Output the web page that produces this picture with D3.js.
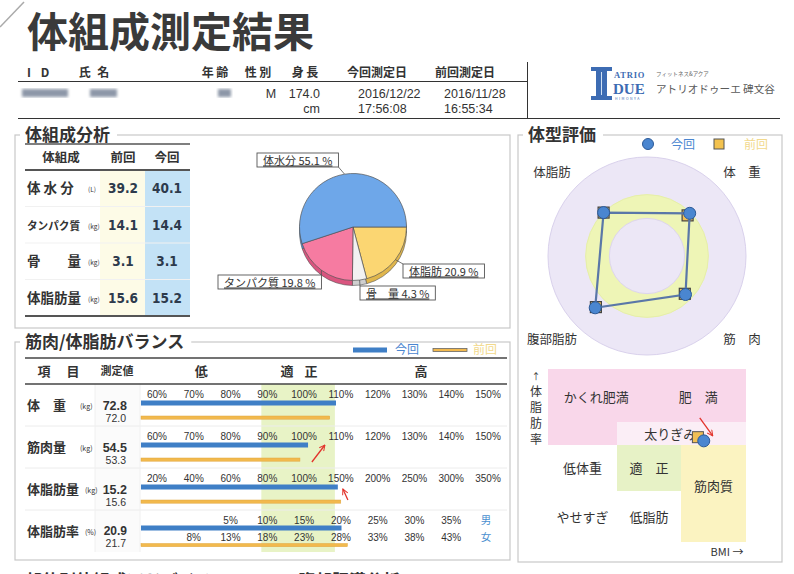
<!DOCTYPE html>
<html>
<head>
<meta charset="utf-8">
<title>体組成測定結果</title>
<script src="https://cdn.jsdelivr.net/npm/d3@7"></script>
<style>
  body { margin: 0; background: #fff; }
  svg { display: block; font-family: "Noto Sans CJK JP", "Noto Sans", sans-serif; }
  .num { font-family: "Liberation Sans", Arial, sans-serif; }
  .big { font-family: "DejaVu Sans Condensed", "DejaVu Sans", sans-serif; }
</style>
</head>
<body>
<div id="chart"></div>
<script>
// ---------- data ----------
const headerLabels = ["I D", "氏 名", "年 齢", "性 別", "身 長", "今回測定日", "前回測定日"];
const sex = "M";
const height = "174.0";
const dateNow = ["2016/12/22", "17:56:08"];
const datePrev = ["2016/11/28", "16:55:34"];

// 体組成分析
const compItems = ["体 水 分", "タンパク質", "骨　　量", "体脂肪量"];
const compUnits = ["(L)", "(kg)", "(kg)", "(kg)"];
const compPrev = [39.2, 14.1, 3.1, 15.6];
const compNow = [40.1, 14.4, 3.1, 15.2];

// pie, clockwise from 3 o'clock
const pieNames = ["体脂肪", "骨　量", "タンパク質", "体水分"];
const piePct = [20.9, 4.3, 19.8, 55.1];

// 体型評価 (radar), clockwise from upper right
const radarAxes = ["体　重", "筋　肉", "腹部脂肪", "体脂肪"];
const radarNow = [61, 55, 74, 62];
const radarPrev = [58, 54, 73, 62];
const radarBands = [100, 62, 38];

// BMI / 体脂肪率 map
const bmiEdges = [17, 20, 23, 26];
const fatEdges = [5, 12, 20, 25, 30];
const bmiCells = [
  { bmi: [17, 26], fat: [25, 30], kind: "obese" },
  { bmi: [17, 20], fat: [20, 25], kind: "obese" },
  { bmi: [20, 26], fat: [20, 25], kind: "over" },
  { bmi: [17, 20], fat: [12, 20], kind: "plain" },
  { bmi: [20, 23], fat: [12, 20], kind: "ok" },
  { bmi: [23, 26], fat: [5, 20], kind: "muscle" },
  { bmi: [17, 20], fat: [5, 12], kind: "plain" },
  { bmi: [20, 23], fat: [5, 12], kind: "plain" }
];
const bmiLabels = [
  { text: "かくれ肥満", bmi: 19.1, fat: 27.4 },
  { text: "肥　満", bmi: 23.8, fat: 27.4 },
  { text: "太りぎみ", bmi: 22.5, fat: 22.4 },
  { text: "低体重", bmi: 18.5, fat: 16 },
  { text: "適　正", bmi: 21.5, fat: 16 },
  { text: "筋肉質", bmi: 24.5, fat: 12.8 },
  { text: "やせすぎ", bmi: 18.5, fat: 8.5 },
  { text: "低脂肪", bmi: 21.5, fat: 8.5 }
];
const bmiNow = 24.05, bmiPrev = 23.78;
const fatNow = 20.9, fatPrev = 21.7;

// 筋肉/体脂肪バランス
const balanceItems = ["体　重", "筋肉量", "体脂肪量", "体脂肪率"];
const balanceUnits = ["(kg)", "(kg)", "(kg)", "(%)"];
const balanceNow = [72.8, 54.5, 15.2, 20.9];
const balancePrev = [72.0, 53.3, 15.6, 21.7];
const balanceBarNow = [110.3, 102.7, 154, 20.9];
const balanceBarPrev = [108.6, 100.5, 158, 21.7];
const ticksPct = [60, 70, 80, 90, 100, 110, 120, 130, 140, 150];
const ticksFatMass = [20, 40, 60, 80, 100, 150, 200, 250, 300, 350];
const ticksMale = [5, 10, 15, 20, 25, 30, 35];
const ticksFemale = [8, 13, 18, 23, 28, 33, 38, 43];

// ---------- page ----------
const W = 794, H = 574;
const ink = "#333";
const blue = "#3f7fc6", orange = "#f2b94d";

const svg = d3.select("#chart").append("svg").attr("width", W).attr("height", H);
svg.append("rect").attr("width", W).attr("height", H).attr("fill", "#fff");

const defs = svg.append("defs");
defs.append("filter").attr("id", "blur").append("feGaussianBlur").attr("stdDeviation", 1.8);
const mk = defs.append("marker").attr("id", "redArrow")
  .attr("viewBox", "0 0 10 10").attr("refX", 9).attr("refY", 5)
  .attr("markerWidth", 7).attr("markerHeight", 7)
  .attr("markerUnits", "userSpaceOnUse").attr("orient", "auto");
mk.append("path").attr("d", "M1,1 L9,5 L1,9").attr("fill", "none")
  .attr("stroke", "#e2332b").attr("stroke-width", 1.4);

function txt(g, x, y, s, size, opt) {
  opt = opt || {};
  const t = g.append("text").attr("x", x).attr("y", y).text(s)
    .attr("font-size", size).attr("fill", opt.fill || ink)
    .attr("text-anchor", opt.anchor || "start");
  if (opt.bold) t.attr("font-weight", 700);
  if (opt.cls) t.attr("class", opt.cls);
  return t;
}

function panel(x0, y0, x1, y1, title, tx) {
  svg.append("rect").attr("x", x0).attr("y", y0).attr("width", x1 - x0).attr("height", y1 - y0)
    .attr("fill", "none").attr("stroke", "#c8c8c8").attr("stroke-width", 1.2);
  const t = txt(svg, tx, y0 + 6, title, 17, { bold: true });
  const w = t.node().getComputedTextLength();
  svg.insert("rect", () => t.node()).attr("x", tx - 5).attr("y", y0 - 3)
    .attr("width", w + 12).attr("height", 6).attr("fill", "#fff");
}

// page curl line
svg.append("line").attr("x1", 0).attr("y1", 27).attr("x2", 24).attr("y2", 2)
  .attr("stroke", "#aaa").attr("stroke-width", 1.5);

// ---------- header ----------
txt(svg, 27, 47, "体組成測定結果", 41, { bold: true, fill: "#3a3a3a" });

const headX = [40, 95, 215, 258, 305, 377, 465];
headerLabels.forEach((s, i) => {
  const t = txt(svg, headX[i], 77, s, 12, { bold: true, anchor: "middle" });
  if (i < 2) t.attr("letter-spacing", i === 0 ? 3.5 : 2);
});
svg.append("line").attr("x1", 18).attr("x2", 527).attr("y1", 81.5).attr("y2", 81.5).attr("stroke", ink);
svg.append("line").attr("x1", 527.5).attr("x2", 527.5).attr("y1", 62).attr("y2", 118).attr("stroke", ink);
svg.append("line").attr("x1", 18).attr("x2", 780).attr("y1", 118.5).attr("y2", 118.5).attr("stroke", ink);

// blurred personal fields
[[22, 46], [90, 27], [218, 13]].forEach(([x, w]) => {
  svg.append("rect").attr("x", x).attr("y", 89).attr("width", w).attr("height", 8)
    .attr("fill", "#8d97a8").attr("filter", "url(#blur)");
});
txt(svg, 271, 98, sex, 12.5, { anchor: "middle", cls: "num" });
txt(svg, 320, 98, height, 12.5, { anchor: "end", cls: "num" });
txt(svg, 320, 113, "cm", 12.5, { anchor: "end", cls: "num" });
txt(svg, 358, 98, dateNow[0], 12.5, { cls: "num" });
txt(svg, 358, 113, dateNow[1], 12.5, { cls: "num" });
txt(svg, 444, 98, datePrev[0], 12.5, { cls: "num" });
txt(svg, 444, 113, datePrev[1], 12.5, { cls: "num" });

// logo
const logo = svg.append("g");
const lb = "#3d6cb3";
logo.append("path").attr("fill", lb)
  .attr("d", "M591,67 H612 V71 H607 V96 H612 V100 H591 V96 H596 V71 H591 Z");
logo.append("line").attr("x1", 601.5).attr("x2", 601.5).attr("y1", 72).attr("y2", 95)
  .attr("stroke", "#cfe0f3").attr("stroke-width", 1);
txt(logo, 614, 78, "ATRIO", 8.5, { bold: true, fill: lb }).attr("font-family", "Liberation Serif").attr("letter-spacing", 0.8);
txt(logo, 613, 94, "DUE", 15, { bold: true, fill: lb }).attr("font-family", "Liberation Serif");
txt(logo, 615, 100, "HIMONYA", 3.5, { fill: lb }).attr("letter-spacing", 1.5);
txt(logo, 656, 76, "フィットネス&アクア", 5.5, { fill: "#666" });
txt(logo, 656, 93, "アトリオドゥーエ 碑文谷", 10.6, { fill: "#5a5a5a" });

// ---------- 体組成分析 ----------
panel(15, 135, 510, 328, "体組成分析", 25);

const compX = { label: 27, unit: 88, prev: 123, now: 167 };
const compY = d3.scaleBand().domain(compItems).range([170, 316]);
svg.append("rect").attr("x", 100).attr("y", 170).attr("width", 45).attr("height", 146).attr("fill", "#fdfbe7");
svg.append("rect").attr("x", 145).attr("y", 170).attr("width", 45).attr("height", 146).attr("fill", "#c3e2f6");
compItems.slice(1).forEach(d => {
  svg.append("line").attr("x1", 25).attr("x2", 190).attr("y1", compY(d)).attr("y2", compY(d))
    .attr("stroke", "#f1f1f1");
});
svg.append("line").attr("x1", 25).attr("x2", 190).attr("y1", 144).attr("y2", 144).attr("stroke", "#555").attr("stroke-width", 1.5);
svg.append("line").attr("x1", 25).attr("x2", 190).attr("y1", 170).attr("y2", 170).attr("stroke", "#555").attr("stroke-width", 2);
svg.append("line").attr("x1", 25).attr("x2", 190).attr("y1", 316).attr("y2", 316).attr("stroke", "#555").attr("stroke-width", 2);
txt(svg, 61, 162, "体組成", 12.5, { bold: true, anchor: "middle" });
txt(svg, compX.prev, 162, "前回", 12.5, { bold: true, anchor: "middle" });
txt(svg, compX.now, 162, "今回", 12.5, { bold: true, anchor: "middle" });
compItems.forEach((d, i) => {
  const cy = compY(d) + compY.bandwidth() / 2 + 5;
  const long = d === "タンパク質";
  const t = txt(svg, compX.label, cy, d, long ? 11.5 : 13.5, { bold: true });
  if (long) t.attr("textLength", 53).attr("lengthAdjust", "spacingAndGlyphs");
  txt(svg, compX.unit, cy - 1, compUnits[i], 6.5, {});
  txt(svg, compX.prev, cy, compPrev[i].toFixed(1), 13.5, { bold: true, anchor: "middle", cls: "big", fill: "#2d3a4c" });
  txt(svg, compX.now, cy, compNow[i].toFixed(1), 13.5, { bold: true, anchor: "middle", cls: "big", fill: "#2d3a4c" });
});

// pie
const pieC = [353, 227], pieR = 53.5;
const pieTop = ["#fbd672", "#f2f2f2", "#f67ba1", "#6ea7e9"];
const pieSide = ["#e0b64c", "#cfcfcf", "#d9557f", "#4d86c9"];
const arcs = d3.pie().sort(null).value(d => d)
  .startAngle(Math.PI / 2).endAngle(Math.PI / 2 + 2 * Math.PI)(piePct);
const arc = d3.arc().innerRadius(0).outerRadius(pieR);
const pieG = svg.append("g").attr("transform", `translate(${pieC[0]},${pieC[1]})`);
pieG.selectAll("path.side").data(arcs).join("path").attr("class", "side")
  .attr("transform", "translate(0,5)").attr("d", arc)
  .attr("fill", (d, i) => pieSide[i]).attr("stroke", "#555").attr("stroke-width", 0.6);
pieG.selectAll("path.top").data(arcs).join("path").attr("class", "top")
  .attr("d", arc).attr("fill", (d, i) => pieTop[i]).attr("stroke", "#555").attr("stroke-width", 0.7);

const pieBox = { "体脂肪": [403, 264], "骨　量": [360, 286], "タンパク質": [218, 275], "体水分": [257, 153] };
arcs.forEach((a, i) => {
  const name = pieNames[i];
  const [bx, by] = pieBox[name];
  const t = txt(svg, bx + 6, by + 11.5, `${name} ${piePct[i].toFixed(1)} %`, 11, {})
    .attr("text-decoration", "underline");
  const bw = t.node().getComputedTextLength() + 12, bh = 14;
  svg.insert("rect", () => t.node()).attr("x", bx).attr("y", by).attr("width", bw).attr("height", bh)
    .attr("fill", "#fff").attr("stroke", "#555").attr("stroke-width", 0.9);
  const mid = (a.startAngle + a.endAngle) / 2;
  const p = d3.pointRadial(mid, pieR);
  const px = pieC[0] + p[0], py = pieC[1] + p[1];
  const ax = Math.max(bx, Math.min(bx + bw, px)), ay = Math.max(by, Math.min(by + bh, py));
  svg.append("line").attr("x1", px).attr("y1", py).attr("x2", ax).attr("y2", ay)
    .attr("stroke", "#555").attr("stroke-width", 0.8);
});

// ---------- 体型評価 ----------
panel(518, 135, 782, 562, "体型評価", 528);

svg.append("circle").attr("cx", 648).attr("cy", 144).attr("r", 5.5).attr("fill", "#4a86d0").attr("stroke", "#2c5a98");
txt(svg, 683, 148.5, "今回", 12, { anchor: "middle", fill: "#4a86d0" });
svg.append("rect").attr("x", 714).attr("y", 139).attr("width", 10).attr("height", 10)
  .attr("fill", "#f3c24f").attr("stroke", "#555");
txt(svg, 756, 148.5, "前回", 12, { anchor: "middle", fill: "#f2d98c" });

const rc = [647, 256];
const rScale = d3.scaleLinear().domain([0, 100]).range([0, 99]);
const ang = i => Math.PI / 4 + i * Math.PI / 2;
const radar = svg.append("g").attr("transform", `translate(${rc[0]},${rc[1]})`);
const bandFill = ["#ece7f6", "#eef5b6", "#ece7f6"];
const bandStroke = ["#d9d1ec", "#e6efa8", "#ddd5ee"];
radarBands.forEach((b, i) => {
  radar.append("circle").attr("r", rScale(b)).attr("fill", bandFill[i]).attr("stroke", bandStroke[i]);
});
radarPrev.forEach((v, i) => {
  const [x, y] = d3.pointRadial(ang(i), rScale(v));
  radar.append("rect").attr("x", x - 5.5).attr("y", y - 5.5).attr("width", 11).attr("height", 11)
    .attr("fill", "#f0bf55").attr("stroke", "#444").attr("stroke-width", 1.2);
});
radar.append("path").datum(radarNow)
  .attr("d", d3.lineRadial().angle((d, i) => ang(i)).radius(d => rScale(d)).curve(d3.curveLinearClosed))
  .attr("fill", "none").attr("stroke", "#5a77a8").attr("stroke-width", 2.2);
radarNow.forEach((v, i) => {
  const [x, y] = d3.pointRadial(ang(i), rScale(v));
  radar.append("circle").attr("cx", x).attr("cy", y).attr("r", 6)
    .attr("fill", "#4a86d0").attr("stroke", "#2c5a98").attr("stroke-width", 1);
});
radarAxes.forEach((s, i) => {
  const sx = Math.sign(Math.sin(ang(i))), sy = -Math.sign(Math.cos(ang(i)));
  txt(radar, sx * 95, sy * 83 + (sy < 0 ? 4 : 5), s, 12.5, { anchor: "middle" });
});

// BMI map
const bx = d3.scaleLinear().domain(bmiEdges).range([548, 617, 681, 746]);
const by = d3.scaleLinear().domain(fatEdges).range([542, 491, 445, 422, 369]);
const cellFill = { obese: "#f9d7ea", over: "#fbeef6", plain: "#ffffff", ok: "#e7f2c6", muscle: "#fbf3c1" };
svg.selectAll("rect.cell").data(bmiCells).join("rect").attr("class", "cell")
  .attr("x", d => bx(d.bmi[0])).attr("y", d => by(d.fat[1]))
  .attr("width", d => bx(d.bmi[1]) - bx(d.bmi[0])).attr("height", d => by(d.fat[0]) - by(d.fat[1]))
  .attr("fill", d => cellFill[d.kind]);
bmiLabels.forEach(d => txt(svg, bx(d.bmi), by(d.fat) + 5, d.text, 13, { anchor: "middle" }));
["↑", "体", "脂", "肪", "率"].forEach((c, i) => txt(svg, 536, 380 + i * 16, c, c === "↑" ? 9 : 12, { anchor: "middle" }));
txt(svg, 727, 556, "BMI →", 11, { anchor: "middle" });

svg.append("rect").attr("x", bx(bmiPrev) - 5.5).attr("y", by(fatPrev) - 5.5).attr("width", 11).attr("height", 11)
  .attr("fill", "#f0bf55").attr("stroke", "#555");
svg.append("circle").attr("cx", bx(bmiNow)).attr("cy", by(fatNow)).attr("r", 6)
  .attr("fill", "#4a86d0").attr("stroke", "#2c5a98");
svg.append("line").attr("x1", bx(bmiNow) - 4).attr("y1", by(fatNow) - 23)
  .attr("x2", bx(bmiNow) + 9).attr("y2", by(fatNow) - 5)
  .attr("stroke", "#e2332b").attr("stroke-width", 1.3).attr("marker-end", "url(#redArrow)");

// ---------- 筋肉/体脂肪バランス ----------
panel(15, 342, 510, 560, "筋肉/体脂肪バランス", 25);

svg.append("rect").attr("x", 353).attr("y", 347.5).attr("width", 34).attr("height", 5).attr("fill", blue);
txt(svg, 395, 354, "今回", 12, { fill: "#4a86d0" });
svg.append("rect").attr("x", 433).attr("y", 348.5).attr("width", 34).attr("height", 3)
  .attr("fill", orange).attr("stroke", "#666").attr("stroke-width", 0.8);
txt(svg, 473, 354, "前回", 12, { fill: "#f2d98c" });

const chartLeft = 141, tableRight = 507;
const colX = d3.scaleLinear().domain([0, 9]).range([151, 482]);
const rowScale = (ticks, off) => d3.scaleLinear().domain(ticks).range(ticks.map((t, i) => colX(i + off)));
const sPct = rowScale(ticksPct, 0);
const sFat = rowScale(ticksFatMass, 0);
const sMale = rowScale(ticksMale, 2);
const sFemale = rowScale(ticksFemale, 1);
const rowScales = [sPct, sPct, sFat, sMale];
const rowY = d3.scaleBand().domain(balanceItems).range([384, 552]);

svg.append("rect").attr("x", 95).attr("y", 384).attr("width", 45).attr("height", 168).attr("fill", "#fbfbfb");
svg.append("rect").attr("x", sPct(90)).attr("y", 384).attr("width", sPct(110) - sPct(90)).attr("height", 168)
  .attr("fill", "#e8f3c6");
balanceItems.slice(1).forEach(d => {
  svg.append("line").attr("x1", 25).attr("x2", tableRight).attr("y1", rowY(d)).attr("y2", rowY(d)).attr("stroke", "#ececec");
});
[95, 140].forEach(x => svg.append("line").attr("x1", x).attr("x2", x).attr("y1", 384).attr("y2", 552).attr("stroke", "#f0f0f0"));
svg.append("line").attr("x1", 25).attr("x2", tableRight).attr("y1", 358).attr("y2", 358).attr("stroke", "#444").attr("stroke-width", 1.5);
svg.append("line").attr("x1", 25).attr("x2", tableRight).attr("y1", 384).attr("y2", 384).attr("stroke", "#444").attr("stroke-width", 1.5);

txt(svg, 44, 376, "項", 13, { bold: true, anchor: "middle" });
txt(svg, 73, 376, "目", 13, { bold: true, anchor: "middle" });
txt(svg, 117, 375, "測定値", 11, { bold: true, anchor: "middle" });
txt(svg, (chartLeft + sPct(90)) / 2, 376, "低", 13, { bold: true, anchor: "middle" });
txt(svg, (sPct(90) + sPct(110)) / 2 - 11, 376, "適", 13, { bold: true, anchor: "middle" });
txt(svg, (sPct(90) + sPct(110)) / 2 + 13, 376, "正", 13, { bold: true, anchor: "middle" });
txt(svg, (sPct(110) + tableRight) / 2, 376, "高", 13, { bold: true, anchor: "middle" });

const tickLabel = (t, s, y) => txt(svg, s(t) + 6, y, t + "%", 10, { anchor: "middle", cls: "num" });
balanceItems.forEach((d, i) => {
  const t = rowY(d);
  const s = rowScales[i];
  const last = i === 3;
  // labels
  txt(svg, 27, t + 26, d, 13, { bold: true });
  txt(svg, i < 2 ? 80 : 85, t + 25, balanceUnits[i], 7, {});
  txt(svg, 127, t + (last ? 25 : 26), balanceNow[i].toFixed(1), last ? 12 : 12.5, { bold: true, anchor: "end", cls: "num" });
  txt(svg, 126, t + (last ? 37 : 38), balancePrev[i].toFixed(1), 10.5, { anchor: "end", cls: "num" });
  // ticks
  if (!last) {
    (i === 2 ? ticksFatMass : ticksPct).forEach(v => tickLabel(v, s, t + 13.5));
  } else {
    ticksMale.forEach(v => tickLabel(v, sMale, t + 13.5));
    ticksFemale.forEach(v => tickLabel(v, sFemale, t + 30.5));
    txt(svg, 486, t + 14, "男", 10.5, { anchor: "middle", fill: "#4a8fd0" });
    txt(svg, 486, t + 31, "女", 10.5, { anchor: "middle", fill: "#4a8fd0" });
  }
  // bars
  svg.append("rect").attr("x", chartLeft).attr("y", t + (last ? 15.5 : 16.5))
    .attr("width", s(balanceBarNow[i]) - chartLeft).attr("height", 5).attr("fill", blue);
  svg.append("rect").attr("x", chartLeft).attr("y", t + (last ? 33.5 : 32))
    .attr("width", s(balanceBarPrev[i]) - chartLeft).attr("height", 3.2)
    .attr("fill", orange).attr("stroke", "#e0a640").attr("stroke-width", 0.5);
});

// hand-drawn red arrows
const r2 = rowY(balanceItems[1]), r3 = rowY(balanceItems[2]);
svg.append("line").attr("x1", sPct(110) - 23).attr("y1", r2 + 36).attr("x2", sPct(110) - 10).attr("y2", r2 + 19)
  .attr("stroke", "#e2332b").attr("stroke-width", 1.3).attr("marker-end", "url(#redArrow)");
svg.append("line").attr("x1", sFat(150) + 13).attr("y1", r3 + 32).attr("x2", sFat(150) + 8).attr("y2", r3 + 21)
  .attr("stroke", "#e2332b").attr("stroke-width", 1.3).attr("marker-end", "url(#redArrow)");

// next sections, cut off at the page bottom
txt(svg, 25, 587, "部位別体組成アドバイス", 17, { bold: true });
txt(svg, 298, 587, "腹部肥満分析", 17, { bold: true });
</script>
</body>
</html>
